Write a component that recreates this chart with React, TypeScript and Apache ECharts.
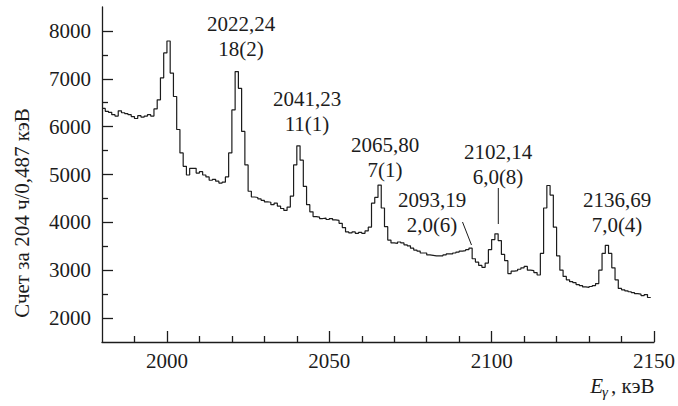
import React, { useEffect, useRef } from "react";
import * as echarts from "echarts";

// Spectrum: counts per bin, bins of 1 keV starting at 1980 keV
const binStart = 1980;
const binWidth = 1;
const counts = [
  6380, 6320, 6300, 6250, 6220, 6330, 6290, 6270, 6250, 6210,
  6170, 6230, 6200, 6220, 6250, 6220, 6370, 6560, 7020, 7540,
  7790, 7120, 6630, 5940, 5450, 5170, 4990, 5130, 5130, 5030,
  5060, 4990, 4950, 4880, 4900, 4860, 4820, 4840, 4950, 5450,
  6350, 7150, 6800, 5900, 5200, 4650, 4530, 4520, 4490, 4460,
  4430, 4420, 4370, 4400, 4340, 4290, 4250, 4320, 4550, 5200,
  5600, 5300, 4750, 4370, 4220, 4120, 4110, 4080, 4090, 4060,
  4080, 4050, 4040, 3980, 3890, 3800, 3780, 3800, 3770, 3790,
  3770, 3820, 3900, 4400, 4520, 4780, 4300, 3910, 3630, 3570,
  3560, 3590, 3570, 3530, 3510, 3460, 3420, 3400, 3360, 3360,
  3320, 3310, 3300, 3300, 3300, 3320, 3340, 3340, 3360, 3380,
  3400, 3410, 3430, 3460, 3240, 3170, 3100, 3060, 3150, 3430,
  3640, 3760, 3620, 3330, 3200, 2930, 2980, 2990, 3020, 3050,
  3080, 3000, 2990, 2950, 2900, 3350, 4300, 4770, 4570, 3900,
  3300, 3000, 2870, 2800, 2760, 2740, 2700, 2680, 2650, 2640,
  2660, 2680, 2720, 3000, 3350, 3520, 3350, 3050, 2800, 2620,
  2590, 2570, 2550, 2530, 2510, 2500, 2470, 2490, 2430,
];

const xMajorTicks = [2000, 2050, 2100, 2150];
const xMinorTicks = [1990, 2010, 2020, 2030, 2040, 2060, 2070, 2080, 2090, 2110, 2120, 2130, 2140];
const yMajorTicks = [2000, 3000, 4000, 5000, 6000, 7000, 8000];
const yMinorTicks = [2500, 3500, 4500, 5500, 6500, 7500];

const peakEnergies = ["2022,24", "2041,23", "2065,80", "2093,19", "2102,14", "2136,69"];
const peakIntensities = ["18(2)", "11(1)", "7(1)", "2,0(6)", "6,0(8)", "7,0(4)"];

const yAxisTitle = "Счет за 204 ч/0,487 кэВ";
const xAxisUnit = ", кэВ";

const FONT = "Liberation Serif";
const INK = "#1c1c1c";

export default function App() {
  const ref = useRef<HTMLDivElement>(null);
  useEffect(() => {
    document.body.style.margin = "0";
    const chart = echarts.init(ref.current!, null, { renderer: "svg" });
    const pts: number[][] = counts.map((v, i) => [binStart + i * binWidth, v]);
    pts.push([binStart + counts.length * binWidth, counts[counts.length - 1]]);

    const labelPos = [
      { x: 241, y: 11.5 },
      { x: 307, y: 86 },
      { x: 385, y: 132.5 },
      { x: 432, y: 187.5 },
      { x: 498, y: 139.5 },
      { x: 617, y: 187.5 },
    ];

    const txt = (extra: any) => ({ fontFamily: FONT, fontSize: 21, fill: INK, ...extra });

    const graphics: any[] = [
      {
        type: "text",
        x: 22,
        y: 213,
        rotation: Math.PI / 2,
        style: txt({ text: yAxisTitle, align: "center", verticalAlign: "middle" }),
      },
      {
        type: "text",
        x: 603,
        y: 386,
        style: txt({ text: "E", fontStyle: "italic", align: "right", verticalAlign: "middle" }),
      },
      {
        type: "text",
        x: 602,
        y: 392,
        style: txt({ text: "γ", fontStyle: "italic", fontSize: 15, align: "left", verticalAlign: "middle" }),
      },
      {
        type: "text",
        x: 611,
        y: 386,
        style: txt({ text: xAxisUnit, align: "left", verticalAlign: "middle" }),
      },
      { type: "line", shape: { x1: 462.5, y1: 222, x2: 471.5, y2: 245 }, style: { stroke: INK, lineWidth: 1 } },
      { type: "line", shape: { x1: 498.3, y1: 188, x2: 498.3, y2: 224 }, style: { stroke: INK, lineWidth: 1 } },
    ];
    peakEnergies.forEach((e, i) => {
      graphics.push({
        type: "text",
        x: labelPos[i].x,
        y: labelPos[i].y,
        style: txt({
          text: e + "\n" + peakIntensities[i],
          lineHeight: 25,
          align: "center",
          verticalAlign: "top",
        }),
      });
    });

    const axisLineStyle = { color: INK, width: 1.3 };
    const plain = (v: number) => String(v);
    chart.setOption({
      animation: false,
      grid: { left: 102, right: 21, top: 7, bottom: 64 },
      xAxis: [
        {
          type: "value",
          min: 1980,
          max: 2150,
          axisLine: { show: true, lineStyle: axisLineStyle },
          axisTick: { show: true, inside: true, length: 11, customValues: xMajorTicks, lineStyle: axisLineStyle },
          axisLabel: { customValues: xMajorTicks, formatter: plain, fontFamily: FONT, fontSize: 21, color: INK, margin: 8 },
          splitLine: { show: false },
        },
        {
          type: "value",
          position: "bottom",
          min: 1980,
          max: 2150,
          axisLine: { show: false },
          axisTick: { show: true, inside: true, length: 6, customValues: xMinorTicks, lineStyle: axisLineStyle },
          axisLabel: { show: false },
          splitLine: { show: false },
        },
      ],
      yAxis: [
        {
          type: "value",
          min: 1500,
          max: 8500,
          axisLine: { show: true, lineStyle: axisLineStyle },
          axisTick: { show: true, inside: true, length: 11, customValues: yMajorTicks, lineStyle: axisLineStyle },
          axisLabel: {
            customValues: yMajorTicks,
            formatter: plain,
            fontFamily: FONT,
            fontSize: 21,
            color: INK,
            margin: 11,
            padding: [0, 0, 10, 0],
          },
          splitLine: { show: false },
        },
        {
          type: "value",
          position: "left",
          min: 1500,
          max: 8500,
          axisLine: { show: false },
          axisTick: { show: true, inside: true, length: 6, customValues: yMinorTicks, lineStyle: axisLineStyle },
          axisLabel: { show: false },
          splitLine: { show: false },
        },
      ],
      series: [
        {
          type: "line",
          step: "end",
          data: pts,
          showSymbol: false,
          xAxisIndex: 0,
          yAxisIndex: 0,
          lineStyle: { color: INK, width: 1.2 },
        },
      ],
      graphic: graphics,
    });
    return () => chart.dispose();
  }, []);
  return <div ref={ref} style={{ width: 678, height: 406 }} />;
}
